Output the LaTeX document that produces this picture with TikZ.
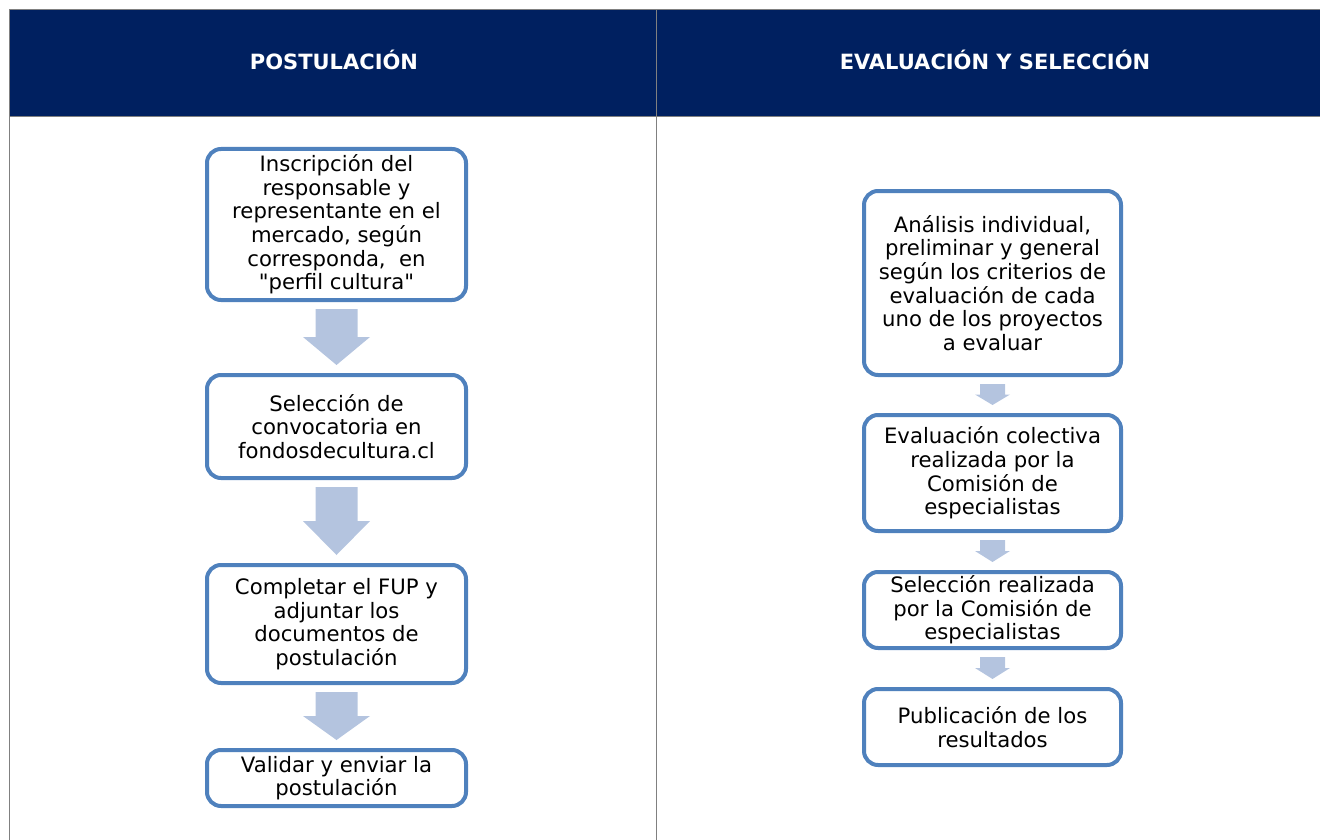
\documentclass[tikz,border=0pt]{standalone}
\usepackage{fontspec}
\setmainfont{DejaVu Sans}[Ligatures=TeXOff]
\usetikzlibrary{calc}
\definecolor{hdr}{RGB}{0,32,96}
\definecolor{boxb}{RGB}{79,129,189}
\definecolor{arrowc}{RGB}{180,196,223}
\definecolor{grid}{RGB}{128,128,128}
\tikzset{
  box/.style={draw=boxb, line width=4pt, rounded corners=14pt, fill=white,
    align=center, inner sep=0pt, font=\fontsize{21.2}{23.6}\selectfont},
  hdrtext/.style={text=white, font=\fontsize{21}{24}\selectfont\bfseries},
}
\newcommand{\blockarrow}[4]{%
  \fill[arrowc] let \p1=($(#1.south)+(0,7)$), \p2=($(#2.north)+(0,-8)$) in
    (\x1-#3,\y1) -- (\x1+#3,\y1) -- (\x1+#3,{(\y1+\y2)/2}) -- (\x1+#4,{(\y1+\y2)/2})
    -- (\x1,\y2) -- (\x1-#4,{(\y1+\y2)/2}) -- (\x1-#3,{(\y1+\y2)/2}) -- cycle;}
\begin{document}
\begin{tikzpicture}[x=1pt,y=-1pt]
\useasboundingbox (0,0) rectangle (1320,840);
% table
\fill[hdr] (9,10) rectangle (1320,117);
\draw[grid, line width=1pt] (1320,10) -- (9,10) -- (9,840);
\draw[grid, line width=1pt] (9,117) -- (1320,117);
\draw[grid, line width=1pt] (656,10) -- (656,840);
\node[hdrtext] (h1) at (334,60) {POSTULACIÓN};
\node[hdrtext] (h2) at (995,60) {EVALUACIÓN Y SELECCIÓN};
% left column
\node[box, minimum width=259pt, minimum height=151pt] (L1) at (336.5,224.5)
  {Inscripción del\\responsable y\\representante en el\\mercado, según\\corresponda,~~en\\"perfil cultura"};
\node[box, minimum width=259pt, minimum height=103pt] (L2) at (336.5,426.5)
  {Selección de\\convocatoria en\\fondosdecultura.cl};
\node[box, minimum width=259pt, minimum height=118pt] (L3) at (336.5,624)
  {Completar el FUP y\\adjuntar los\\documentos de\\postulación};
\node[box, minimum width=259pt, minimum height=56pt] (L4) at (336.5,778)
  {Validar y enviar la\\postulación};
% right column
\node[box, minimum width=257pt, minimum height=184pt] (R1) at (992.5,283)
  {Análisis individual,\\preliminar y general\\según los criterios de\\evaluación de cada\\uno de los proyectos\\a evaluar};
\node[box, minimum width=257pt, minimum height=116pt] (R2) at (992.5,473)
  {Evaluación colectiva\\realizada por la\\Comisión de\\especialistas};
\node[box, minimum width=257pt, minimum height=76pt] (R3) at (992.5,610)
  {Selección realizada\\por la Comisión de\\especialistas};
\node[box, minimum width=257pt, minimum height=76pt] (R4) at (992.5,727)
  {Publicación de los\\resultados};
% arrows
\blockarrow{L1}{L2}{21pt}{33.5pt}
\blockarrow{L2}{L3}{21pt}{33.5pt}
\blockarrow{L3}{L4}{21pt}{33.5pt}
\blockarrow{R1}{R2}{12.5pt}{17.5pt}
\blockarrow{R2}{R3}{12.5pt}{17.5pt}
\blockarrow{R3}{R4}{12.5pt}{17.5pt}
\end{tikzpicture}
\end{document}
